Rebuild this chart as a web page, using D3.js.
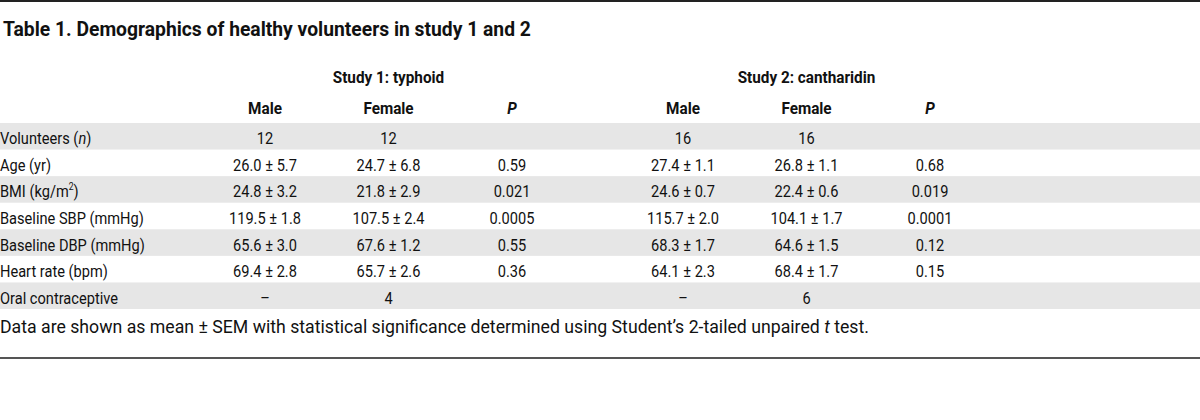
<!DOCTYPE html>
<html>
<head>
<meta charset="utf-8">
<script src="https://cdn.jsdelivr.net/npm/d3@7"></script>
<style>
  html, body { margin: 0; padding: 0; background: #fff; }
  svg { display: block; }
</style>
</head>
<body>
<svg id="chart" width="1200" height="420"></svg>
<script>
// ---- data ----
const title = "Table 1. Demographics of healthy volunteers in study 1 and 2";
const studies = ["Study 1: typhoid", "Study 2: cantharidin"];
const columns = ["Male", "Female", "P"];
const rowLabels = ["Volunteers (n)", "Age (yr)", "BMI (kg/m2)", "Baseline SBP (mmHg)", "Baseline DBP (mmHg)", "Heart rate (bpm)", "Oral contraceptive"];
const study1Male   = ["12", "26.0 ± 5.7", "24.8 ± 3.2", "119.5 ± 1.8", "65.6 ± 3.0", "69.4 ± 2.8", "–"];
const study1Female = ["12", "24.7 ± 6.8", "21.8 ± 2.9", "107.5 ± 2.4", "67.6 ± 1.2", "65.7 ± 2.6", "4"];
const study1P      = ["", "0.59", "0.021", "0.0005", "0.55", "0.36", ""];
const study2Male   = ["16", "27.4 ± 1.1", "24.6 ± 0.7", "115.7 ± 2.0", "68.3 ± 1.7", "64.1 ± 2.3", "–"];
const study2Female = ["16", "26.8 ± 1.1", "22.4 ± 0.6", "104.1 ± 1.7", "64.6 ± 1.5", "68.4 ± 1.7", "6"];
const study2P      = ["", "0.68", "0.019", "0.0001", "0.12", "0.15", ""];
const footnote = "Data are shown as mean ± SEM with statistical significance determined using Student’s 2-tailed unpaired t test.";

const studyData = [
  [study1Male, study1Female, study1P],
  [study2Male, study2Female, study2P]
];

// ---- layout ----
const W = 1200;
const FONT = "Roboto, 'Noto Sans', sans-serif";
const SX = 0.86;       // horizontal condensing for regular table text
const SXB = 0.9;       // horizontal condensing for bold headers
const ink = "#111";

const svg = d3.select("#chart");

const xStudy = d3.scaleOrdinal().domain(studies).range([265, 683]);
const xCol = d3.scalePoint().domain(columns).range([0, 247]);
const yRow = d3.scaleBand().domain(rowLabels).range([123, 309]).padding(0);

// top and bottom rules
svg.append("line").attr("x1", 0).attr("x2", W).attr("y1", 1).attr("y2", 1)
  .attr("stroke", "#222").attr("stroke-width", 2);
svg.append("line").attr("x1", 0).attr("x2", W).attr("y1", 358).attr("y2", 358)
  .attr("stroke", "#555").attr("stroke-width", 2);

// striped rows
svg.append("g").selectAll("rect")
  .data(rowLabels.filter((d, i) => i % 2 === 0))
  .join("rect")
  .attr("x", 0).attr("width", W)
  .attr("y", d => yRow(d)).attr("height", yRow.bandwidth())
  .attr("fill", "#e6e6e6");

// title
svg.append("text")
  .attr("x", 3).attr("y", 36)
  .attr("font-family", FONT).attr("font-size", 19.3).attr("font-weight", 700)
  .attr("fill", ink)
  .text(title);

function condText(x, y, anchor, sx) {
  return svg.append("text")
    .attr("transform", `translate(${x},${y}) scale(${sx || SX},1)`)
    .attr("text-anchor", anchor)
    .attr("font-family", FONT).attr("font-size", 17).attr("fill", ink);
}

// study headers (centered over Female column)
studies.forEach(s => {
  condText(xStudy(s) + xCol("Female"), 83, "middle", SXB)
    .attr("font-weight", 700).text(s);
  columns.forEach(c => {
    const t = condText(xStudy(s) + xCol(c), 114, "middle", SXB).attr("font-weight", 700).text(c);
    if (c === "P") t.attr("font-style", "italic");
  });
});

// row labels
rowLabels.forEach(r => {
  const t = condText(0, yRow(r) + yRow.bandwidth() / 2 + 8, "start");
  if (r === "Volunteers (n)") {
    t.append("tspan").text("Volunteers (");
    t.append("tspan").attr("font-style", "italic").text("n");
    t.append("tspan").text(")");
  } else if (r === "BMI (kg/m2)") {
    t.append("tspan").text("BMI (kg/m");
    t.append("tspan").attr("font-size", 10).attr("dy", -7).text("2");
    t.append("tspan").attr("dy", 7).text(")");
  } else {
    t.text(r);
  }
});

// cells
studies.forEach((s, si) => {
  columns.forEach((c, ci) => {
    studyData[si][ci].forEach((v, ri) => {
      if (!v) return;
      condText(xStudy(s) + xCol(c), yRow(rowLabels[ri]) + yRow.bandwidth() / 2 + 8, "middle").text(v);
    });
  });
});

// footnote
const fn = svg.append("text")
  .attr("x", 0).attr("y", 333)
  .attr("font-family", FONT).attr("font-size", 17.7).attr("fill", ink);
const parts = footnote.split(" t test.");
fn.append("tspan").text(parts[0] + " ");
fn.append("tspan").attr("font-style", "italic").text("t");
fn.append("tspan").text(" test.");
</script>
</body>
</html>
